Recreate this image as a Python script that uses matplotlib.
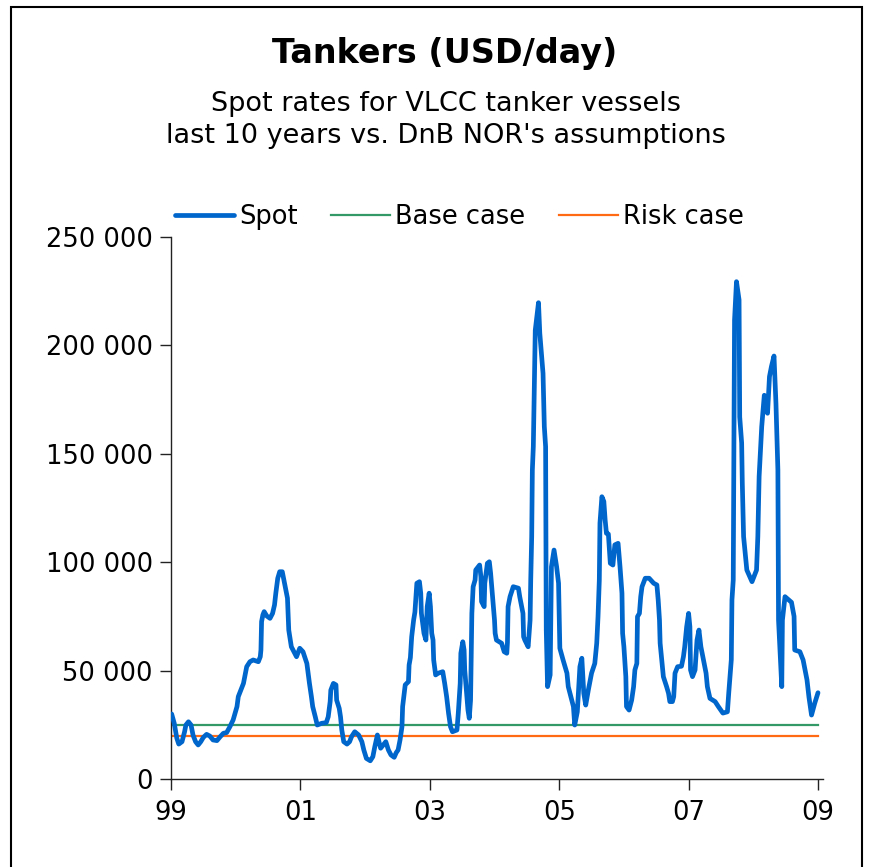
import matplotlib
matplotlib.use("Agg")
import matplotlib.pyplot as plt
from matplotlib.patches import Rectangle
from matplotlib.ticker import FuncFormatter

# ---- data (decimal year, USD/day) ----
spot_t = [
    1999.01, 1999.05, 1999.09, 1999.12, 1999.17, 1999.21, 1999.23, 1999.27, 1999.31, 1999.34,
    1999.38, 1999.42, 1999.46, 1999.50, 1999.55, 1999.60, 1999.65, 1999.71, 1999.76, 1999.81,
    1999.86, 1999.91, 1999.96, 1999.99, 2000.02, 2000.04, 2000.08, 2000.12, 2000.15, 2000.17,
    2000.22, 2000.27, 2000.35, 2000.38, 2000.39, 2000.40, 2000.42, 2000.44, 2000.48, 2000.53,
    2000.57, 2000.60, 2000.62, 2000.65, 2000.68, 2000.72, 2000.75, 2000.80, 2000.82, 2000.86,
    2000.94, 2000.99, 2001.04, 2001.10, 2001.14, 2001.17, 2001.19, 2001.23, 2001.26, 2001.33,
    2001.40, 2001.43, 2001.46, 2001.47, 2001.51, 2001.55, 2001.56, 2001.60, 2001.62, 2001.64,
    2001.67, 2001.72, 2001.76, 2001.79, 2001.84, 2001.90, 2001.95, 2001.98, 2002.02, 2002.08,
    2002.12, 2002.15, 2002.19, 2002.22, 2002.24, 2002.28, 2002.32, 2002.36, 2002.40, 2002.45,
    2002.48, 2002.51, 2002.54, 2002.57, 2002.58, 2002.62, 2002.67, 2002.68, 2002.70, 2002.72,
    2002.75, 2002.77, 2002.80, 2002.84, 2002.86, 2002.87, 2002.91, 2002.94, 2002.96, 2002.99,
    2003.01, 2003.03, 2003.05, 2003.06, 2003.09, 2003.13, 2003.20, 2003.23, 2003.26, 2003.29,
    2003.32, 2003.35, 2003.42, 2003.44, 2003.47, 2003.48, 2003.51, 2003.53, 2003.54, 2003.57,
    2003.59, 2003.61, 2003.63, 2003.65, 2003.67, 2003.70, 2003.71, 2003.77, 2003.79, 2003.80,
    2003.84, 2003.85, 2003.89, 2003.92, 2003.94, 2003.97, 2004.00, 2004.01, 2004.03, 2004.11,
    2004.15, 2004.19, 2004.20, 2004.21, 2004.24, 2004.29, 2004.37, 2004.39, 2004.44, 2004.45,
    2004.47, 2004.52, 2004.55, 2004.56, 2004.575, 2004.585, 2004.60, 2004.63, 2004.68, 2004.70,
    2004.75, 2004.77, 2004.79, 2004.80, 2004.82, 2004.86, 2004.87, 2004.88, 2004.92, 2004.96,
    2004.99, 2005.00, 2005.01, 2005.06, 2005.12, 2005.14, 2005.18, 2005.22, 2005.24, 2005.28,
    2005.30, 2005.32, 2005.35, 2005.38, 2005.41, 2005.45, 2005.50, 2005.55, 2005.58, 2005.60,
    2005.62, 2005.63, 2005.66, 2005.69, 2005.71, 2005.73, 2005.76, 2005.79, 2005.83, 2005.86,
    2005.91, 2005.94, 2005.97, 2005.98, 2006.00, 2006.03, 2006.04, 2006.08, 2006.12, 2006.15,
    2006.17, 2006.20, 2006.21, 2006.24, 2006.26, 2006.28, 2006.33, 2006.39, 2006.46, 2006.51,
    2006.53, 2006.55, 2006.56, 2006.58, 2006.61, 2006.66, 2006.69, 2006.71, 2006.75, 2006.77,
    2006.79, 2006.83, 2006.89, 2006.92, 2006.94, 2006.97, 2007.00, 2007.02, 2007.03, 2007.06,
    2007.10, 2007.13, 2007.16, 2007.19, 2007.23, 2007.27, 2007.29, 2007.33, 2007.41, 2007.46,
    2007.53, 2007.60, 2007.62, 2007.66, 2007.67, 2007.69, 2007.70, 2007.71, 2007.74, 2007.78,
    2007.79, 2007.82, 2007.83, 2007.85, 2007.90, 2007.98, 2008.05, 2008.07, 2008.09, 2008.13,
    2008.17, 2008.22, 2008.25, 2008.28, 2008.32, 2008.35, 2008.38, 2008.39, 2008.44, 2008.45,
    2008.49, 2008.59, 2008.63, 2008.64, 2008.72, 2008.77, 2008.83, 2008.86, 2008.90, 2008.95,
    2009.00,
]
spot_v = [
    30000, 25700, 18800, 16100, 17200, 21800, 24900, 26400, 24900, 20300,
    17200, 15700, 17200, 19200, 20600, 19800, 18000, 17700, 19500, 21100,
    21400, 24100, 27200, 30300, 33400, 38000, 41000, 44100, 48800, 51800,
    54100, 54900, 54100, 56400, 59500, 72600, 75700, 77200, 75200, 74100,
    76400, 80300, 85700, 92600, 95600, 95600, 91000, 83400, 68700, 61000,
    56400, 60300, 58700, 53300, 44100, 38000, 33400, 28700, 24900, 25700,
    26000, 28700, 35700, 41000, 44100, 43400, 36400, 32600, 28700, 22600,
    17200, 16100, 17200, 19500, 21800, 20300, 17200, 13400, 9500, 8400,
    10300, 14900, 20300, 16500, 14200, 15700, 17200, 13400, 11100, 10000,
    12100, 13400, 18000, 24100, 33400, 43400, 44900, 52600, 56000, 65600,
    73300, 77000, 90300, 91000, 85700, 76400, 67200, 64100, 79500, 85700,
    79500, 67200, 64100, 54900, 48000, 48800, 49500, 44100, 38000, 30300,
    24100, 21800, 22600, 30300, 44100, 58000, 63300, 59500, 50300, 39500,
    31800, 28000, 36400, 76400, 88700, 91800, 96400, 98700, 93300, 81800,
    79500, 90300, 99500, 100200, 94900, 84100, 73300, 67200, 64100, 62600,
    58700, 58000, 63000, 79500, 84100, 88700, 88000, 84100, 76400, 65600,
    64000, 61000, 73300, 91800, 111800, 142500, 153300, 207000, 219700, 205600,
    187100, 162500, 153300, 68700, 42600, 48000, 71800, 97900, 105600, 97900,
    90300, 76400, 60300, 54900, 48800, 42600, 38000, 33400, 24900, 31000,
    41000, 51800, 55700, 39500, 34100, 41000, 48800, 53300, 62600, 74900,
    91800, 118000, 130200, 128000, 119500, 113300, 113000, 99500, 98700, 108000,
    108700, 97900, 85700, 67200, 61000, 47200, 33400, 31800, 36400, 42600,
    50300, 53300, 74900, 76400, 84100, 88700, 92600, 92600, 90300, 89500,
    82600, 73300, 62600, 56400, 47200, 42600, 39500, 35700, 35700, 38000,
    48800, 51800, 52000, 56400, 61000, 70200, 76400, 70200, 50300, 47200,
    50300, 64100, 68700, 61000, 54900, 48800, 42600, 37200, 35700, 33400,
    30400, 31000, 39500, 55000, 82600, 91800, 155000, 211700, 229400, 221000,
    167000, 155000, 136500, 111800, 96400, 91000, 96400, 111800, 139500, 162500,
    177000, 168700, 185600, 190200, 195100, 173300, 142500, 73300, 42600, 73300,
    84100, 81500, 75000, 59500, 58700, 54900, 45700, 37800, 29500, 35000,
    39800,
]
base_case = 25000
risk_case = 20000
period = [1999.0, 2009.0]
xtick_pos = [1999, 2001, 2003, 2005, 2007, 2009]
xtick_lbl = ["99", "01", "03", "05", "07", "09"]
ytick_pos = [0, 50000, 100000, 150000, 200000, 250000]

title = "Tankers (USD/day)"
subtitle = "Spot rates for VLCC tanker vessels\nlast 10 years vs. DnB NOR's assumptions"

plt.rcParams['font.family'] = ['DejaVu Sans']

fig = plt.figure(figsize=(8.72, 8.67), dpi=100)
ax = fig.add_axes([171/872, 1-779/867, (823-171)/872, (779-237)/867])

ax.plot(spot_t, spot_v, color="#0066CC", lw=3.4, solid_joinstyle="round",
        solid_capstyle="round", label="Spot", zorder=3)
ax.plot(period, [base_case, base_case], color="#339966", lw=1.6, label="Base case", zorder=2)
ax.plot(period, [risk_case, risk_case], color="#FF6A13", lw=1.6, label="Risk case", zorder=2)

ax.set_xlim(1999.0, 1999.0 + (823-171)/64.7)
ax.set_ylim(0, 250000)
ax.set_xticks(xtick_pos)
ax.set_xticklabels(xtick_lbl)
ax.set_yticks(ytick_pos)
ax.yaxis.set_major_formatter(FuncFormatter(lambda v, p: f"{int(v):,}".replace(",", " ")))

for s in ["top", "right"]:
    ax.spines[s].set_visible(False)
for s in ["left", "bottom"]:
    ax.spines[s].set_color("#222222")
    ax.spines[s].set_linewidth(1.0)
ax.tick_params(axis="both", direction="out", length=8, width=1.0, color="#222222",
               labelsize=18.5, labelcolor="black")
ax.tick_params(axis="x", pad=7)
ax.tick_params(axis="y", pad=5)

fig.text(0.510, 1-53.5/867, title, ha="center", va="center", fontsize=24, fontweight="bold")
fig.text(0.511, 1-120/867, subtitle, ha="center", va="center", fontsize=19.5, linespacing=1.33)

fig.legend(loc="center", bbox_to_anchor=(0.527, 1-217/867), ncol=3, frameon=False,
           fontsize=18.5, handlelength=2.3, handletextpad=0.2, columnspacing=1.3)

fig.patches.append(Rectangle((11/872, -0.01), (862-11)/872, 1.01-7/867,
                             transform=fig.transFigure, fill=False, lw=1.5,
                             edgecolor="black"))

fig.savefig("out.png", dpi=100)
